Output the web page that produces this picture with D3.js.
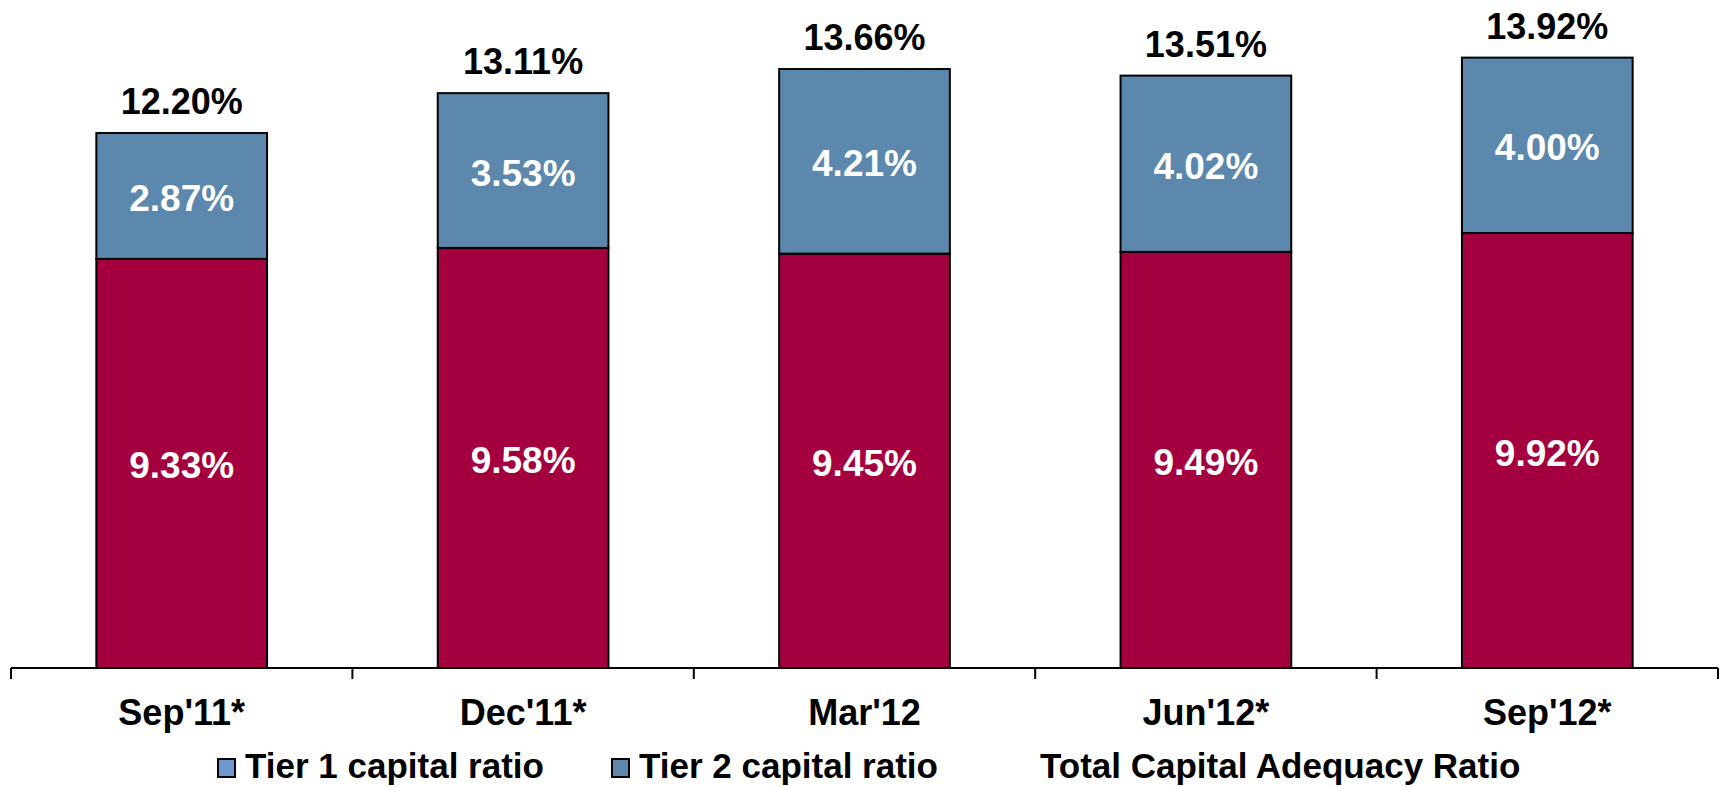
<!DOCTYPE html>
<html>
<head>
<meta charset='utf-8' />
<title>Capital Adequacy Ratio</title>
<style>
  body{ margin:0; background:#fff; }
  svg{ display:block; }
  text{ font-family: Arial, 'Liberation Sans', Helvetica, sans-serif; font-weight:bold; }
</style>
</head>
<body>
<script src="https://d3js.org/d3.v7.min.js"></script>
<script>

// data
let quarters = ["Sep'11*", "Dec'11*", "Mar'12", "Jun'12*", "Sep'12*"]
let tier1 = [9.33, 9.58, 9.45, 9.49, 9.92]
let tier2 = [2.87, 3.53, 4.21, 4.02, 4.00]
let total = [12.20, 13.11, 13.66, 13.51, 13.92]
let legendNames = ['Tier 1 capital ratio', 'Tier 2 capital ratio', 'Total Capital Adequacy Ratio']

let width = 1729, height = 787,
  red = '#a4003f', blue = '#5b88ac'

let svg = d3.select('body').append('svg').attr('width', width).attr('height', height)

let x = d3.scaleBand().domain(quarters).range([11, 1718]).paddingInner(0.5).paddingOuter(0.25),
  y = d3.scaleLinear().domain([0, 15.2]).range([668, 1.5])

let rows = quarters.map((q, i) => ({q: q, t1: tier1[i], t2: tier2[i], tot: total[i]}))

let bars = svg.append('g')

// tier 1 (bottom)
bars.selectAll('rect.t1').data(rows).enter().append('rect')
  .attr('class', 't1')
  .attr('x', d => x(d.q))
  .attr('width', x.bandwidth())
  .attr('y', d => y(d.t1))
  .attr('height', d => y(0) - y(d.t1))
  .style('fill', red).style('stroke', '#000').style('stroke-width', 2)

// tier 2 (top)
bars.selectAll('rect.t2').data(rows).enter().append('rect')
  .attr('class', 't2')
  .attr('x', d => x(d.q))
  .attr('width', x.bandwidth())
  .attr('y', d => y(d.t1 + d.t2))
  .attr('height', d => y(d.t1) - y(d.t1 + d.t2))
  .style('fill', blue).style('stroke', '#000').style('stroke-width', 2)

// inside labels
bars.selectAll('text.l1').data(rows).enter().append('text')
  .attr('x', d => x(d.q) + x.bandwidth() / 2)
  .attr('y', d => (y(0) + y(d.t1)) / 2 + 15)
  .attr('text-anchor', 'middle').style('font-size', '37px').style('fill', '#fff')
  .text(d => d.t1.toFixed(2) + '%')

bars.selectAll('text.l2').data(rows).enter().append('text')
  .attr('x', d => x(d.q) + x.bandwidth() / 2)
  .attr('y', d => (y(d.t1) + y(d.t1 + d.t2)) / 2 + 15)
  .attr('text-anchor', 'middle').style('font-size', '37px').style('fill', '#fff')
  .text(d => d.t2.toFixed(2) + '%')

// totals above
bars.selectAll('text.tot').data(rows).enter().append('text')
  .attr('x', d => x(d.q) + x.bandwidth() / 2)
  .attr('y', d => y(d.tot) - 19)
  .attr('text-anchor', 'middle').style('font-size', '36px').style('fill', '#000')
  .text(d => d.tot.toFixed(2) + '%')

// x axis with ticks at band edges
let ax = svg.append('g')
ax.append('line').attr('x1', x.range()[0]).attr('x2', x.range()[1])
  .attr('y1', y(0)).attr('y2', y(0)).style('stroke', '#000').style('stroke-width', 2)

let edges = quarters.map(q => x(q) - x.step() * x.paddingInner() / 2)
edges.push(x.range()[1])
ax.selectAll('line.tick').data(edges).enter().append('line')
  .attr('x1', d => d).attr('x2', d => d)
  .attr('y1', y(0)).attr('y2', y(0) + 11)
  .style('stroke', '#000').style('stroke-width', 2)

ax.selectAll('text').data(quarters).enter().append('text')
  .attr('x', d => x(d) + x.bandwidth() / 2)
  .attr('y', 725)
  .attr('text-anchor', 'middle').style('font-size', '36px').style('fill', '#000')
  .text(d => d)

// legend
let legend = [
  {name: legendNames[0], color: '#6a98cf', sx: 218},
  {name: legendNames[1], color: blue, sx: 612},
  {name: legendNames[2], color: null, sx: 1013}
]
let lg = svg.append('g')
legend.forEach(l => {
  if(l.color){
    lg.append('rect').attr('x', l.sx).attr('y', 759).attr('width', 17).attr('height', 18)
      .style('fill', l.color).style('stroke', '#000').style('stroke-width', 2)
  }
  lg.append('text').attr('x', l.sx + 27).attr('y', 778)
    .style('font-size', '35px').style('fill', '#000')
    .text(l.name)
})

</script>
</body>
</html>
